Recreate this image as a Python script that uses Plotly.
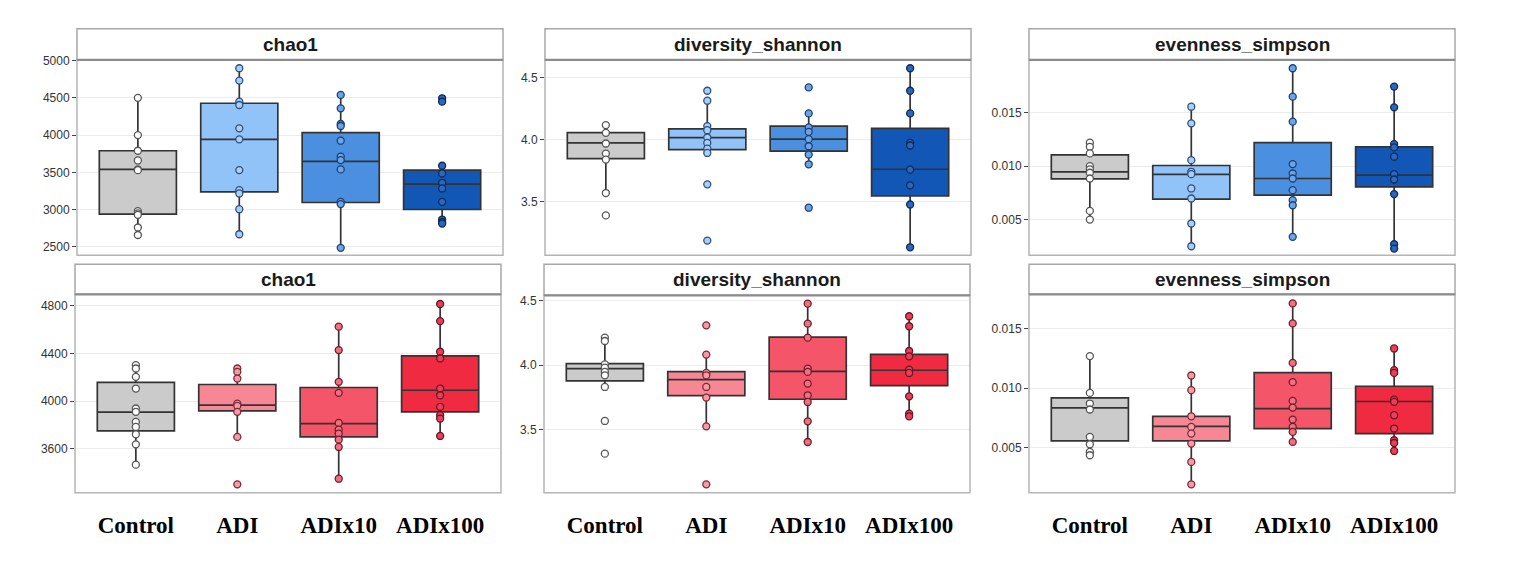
import plotly.graph_objects as go

# page body has an 8px margin: draw the figure 16px smaller and shift geometry
OFF = 8
W, H = 1532 - 2 * OFF, 563 - 2 * OFF

categories = ["Control", "ADI", "ADIx10", "ADIx100"]
panel_titles = ["chao1", "diversity_shannon", "evenness_simpson"]

# ---------------- Top row (blue) ----------------
chao1_blue_points = [
    [4500, 4000, 3790, 3660, 3540, 3530, 2980, 2950, 2930, 2760, 2660],
    [4897, 4731, 4449, 4404, 4091, 3943, 3531, 3262, 3217, 3006, 2670],
    [4539, 4359, 4149, 4122, 3925, 3710, 3665, 3540, 3105, 3074, 2487],
    [4494, 4449, 3589, 3486, 3360, 3284, 3105, 2867, 2836, 2814],
]
chao1_blue_q1 = [2939, 3239, 3096, 3002]
chao1_blue_med = [3540, 3943, 3647, 3342]
chao1_blue_q3 = [3790, 4427, 4032, 3531]
chao1_blue_lo = [2657, 2670, 2487, 2814]
chao1_blue_hi = [4503, 4897, 4539, 3589]

shannon_blue_points = [
    [4.116, 4.054, 3.968, 3.887, 3.839, 3.570, 3.390],
    [4.392, 4.312, 4.108, 4.075, 4.016, 3.973, 3.927, 3.892, 3.640, 3.188],
    [4.419, 4.210, 4.097, 4.062, 4.003, 3.946, 3.879, 3.801, 3.452],
    [4.573, 4.392, 4.210, 3.973, 3.952, 3.758, 3.632, 3.478, 3.134],
]
shannon_blue_q1 = [3.847, 3.919, 3.906, 3.546]
shannon_blue_med = [3.973, 4.016, 4.003, 3.761]
shannon_blue_q3 = [4.056, 4.086, 4.108, 4.089]
shannon_blue_lo = [3.570, 3.892, 3.801, 3.134]
shannon_blue_hi = [4.116, 4.312, 4.210, 4.573]

simpson_blue_points = [
    [0.01219, 0.01181, 0.01119, 0.01000, 0.00969, 0.00938, 0.00884, 0.00581, 0.00500],
    [0.01556, 0.01400, 0.01056, 0.00947, 0.00925, 0.00791, 0.00697, 0.00463, 0.00250],
    [0.01916, 0.01650, 0.01416, 0.01019, 0.00931, 0.00884, 0.00775, 0.00681, 0.00634, 0.00338],
    [0.01744, 0.01550, 0.01206, 0.01175, 0.01088, 0.00925, 0.00875, 0.00738, 0.00269, 0.00228],
]
simpson_blue_q1 = [0.00881, 0.00691, 0.00728, 0.00806]
simpson_blue_med = [0.00947, 0.00922, 0.00884, 0.00916]
simpson_blue_q3 = [0.01106, 0.01006, 0.01219, 0.01181]
simpson_blue_lo = [0.00500, 0.00250, 0.00338, 0.00228]
simpson_blue_hi = [0.01219, 0.01556, 0.01916, 0.01744]

# ---------------- Bottom row (red) ----------------
chao1_red_points = [
    [4302, 4274, 4204, 4106, 3939, 3911, 3827, 3785, 3723, 3639, 3469],
    [4274, 4246, 4190, 3980, 3961, 3911, 3701, 3304],
    [4624, 4428, 4162, 4070, 3818, 3762, 3729, 3678, 3617, 3351],
    [4814, 4671, 4414, 4358, 4106, 4050, 3953, 3883, 3855, 3709],
]
chao1_red_q1 = [3751, 3919, 3701, 3911]
chao1_red_med = [3908, 3967, 3813, 4092]
chao1_red_q3 = [4157, 4140, 4115, 4380]
chao1_red_lo = [3469, 3701, 3351, 3709]
chao1_red_hi = [4302, 4274, 4624, 4814]

shannon_red_points = [
    [4.214, 4.188, 4.006, 3.981, 3.947, 3.921, 3.830, 3.565, 3.310],
    [4.310, 4.082, 3.939, 3.921, 3.830, 3.747, 3.523, 3.071],
    [4.479, 4.323, 4.214, 3.973, 3.947, 3.856, 3.765, 3.713, 3.562, 3.401],
    [4.381, 4.303, 4.110, 4.069, 3.965, 3.939, 3.757, 3.622, 3.601],
]
shannon_red_q1 = [3.877, 3.762, 3.734, 3.840]
shannon_red_med = [3.973, 3.887, 3.952, 3.960]
shannon_red_q3 = [4.012, 3.949, 4.219, 4.084]
shannon_red_lo = [3.830, 3.523, 3.401, 3.601]
shannon_red_hi = [4.214, 4.082, 4.479, 4.381]

simpson_red_points = [
    [0.01268, 0.00959, 0.00870, 0.00820, 0.00590, 0.00528, 0.00464, 0.00436],
    [0.01105, 0.00982, 0.00763, 0.00674, 0.00618, 0.00534, 0.00380, 0.00192],
    [0.01710, 0.01542, 0.01211, 0.01049, 0.00892, 0.00836, 0.00735, 0.00674, 0.00632, 0.00548],
    [0.01332, 0.01150, 0.01127, 0.00903, 0.00884, 0.00772, 0.00660, 0.00562, 0.00539, 0.00472],
]
simpson_red_q1 = [0.00556, 0.00556, 0.00660, 0.00618]
simpson_red_med = [0.00833, 0.00679, 0.00828, 0.00887]
simpson_red_q3 = [0.00917, 0.00763, 0.01130, 0.01015]
simpson_red_lo = [0.00436, 0.00192, 0.00548, 0.00472]
simpson_red_hi = [0.01268, 0.01105, 0.01710, 0.01332]

# ---------------- styles ----------------
blue_fill = ["#cbcbcb", "#92c3f8", "#4a8fe0", "#1257b5"]
blue_pt_fill = ["#ffffff", "#a9cff7", "#6aa5ea", "#2a68c0"]
blue_pt_line = ["#555555", "#2c4f7c", "#1e3f6e", "#0e2a55"]
red_fill = ["#cbcbcb", "#f88796", "#f45568", "#f02a40"]
red_pt_fill = ["#ffffff", "#f79aa7", "#f06f80", "#e8405a"]
red_pt_line = ["#555555", "#7a2a35", "#6e1d28", "#6a1520"]

panels = [
    (chao1_blue_points, chao1_blue_q1, chao1_blue_med, chao1_blue_q3, chao1_blue_lo, chao1_blue_hi,
     blue_fill, blue_pt_fill, blue_pt_line, [2388, 5009], [2500, 3000, 3500, 4000, 4500, 5000], "d"),
    (shannon_blue_points, shannon_blue_q1, shannon_blue_med, shannon_blue_q3, shannon_blue_lo, shannon_blue_hi,
     blue_fill, blue_pt_fill, blue_pt_line, [3.070, 4.640], [3.5, 4.0, 4.5], ".1f"),
    (simpson_blue_points, simpson_blue_q1, simpson_blue_med, simpson_blue_q3, simpson_blue_lo, simpson_blue_hi,
     blue_fill, blue_pt_fill, blue_pt_line, [0.00166, 0.01994], [0.005, 0.010, 0.015], ".3f"),
    (chao1_red_points, chao1_red_q1, chao1_red_med, chao1_red_q3, chao1_red_lo, chao1_red_hi,
     red_fill, red_pt_fill, red_pt_line, [3234, 4895], [3600, 4000, 4400, 4800], "d"),
    (shannon_red_points, shannon_red_q1, shannon_red_med, shannon_red_q3, shannon_red_lo, shannon_red_hi,
     red_fill, red_pt_fill, red_pt_line, [3.006, 4.544], [3.5, 4.0, 4.5], ".1f"),
    (simpson_red_points, simpson_red_q1, simpson_red_med, simpson_red_q3, simpson_red_lo, simpson_red_hi,
     red_fill, red_pt_fill, red_pt_line, [0.00122, 0.01786], [0.005, 0.010, 0.015], ".3f"),
]

# pixel geometry of panels in the window: (left, right, top, bottom, strip_top)
geom = [
    (77, 503, 60, 255, 29), (545, 971, 60, 255, 29), (1029, 1455, 60, 255, 29),
    (75, 501, 294, 492, 264), (544, 970, 295, 492, 264), (1029, 1455, 294, 492, 264),
]

def px(x):
    return (x - OFF) / W

def py(y):
    # small empirical correction for vertical placement
    y = y - 6.0 * (492 - y) / 463
    return 1 - (y - OFF) / H

fig = go.Figure()
layout = dict(
    width=W, height=H, margin=dict(l=0, r=0, t=0, b=0),
    paper_bgcolor="white", plot_bgcolor="white", showlegend=False,
    font=dict(family="Liberation Sans, Arial, sans-serif", color="#333333"),
)
shapes = []
annotations = []

for i, (pts, q1, med, q3, lo, hi, fill, ptf, ptl, yr, tv, fmt) in enumerate(panels):
    n = i + 1
    xa = "x" if n == 1 else f"x{n}"
    ya = "y" if n == 1 else f"y{n}"
    L, R, T, B, ST = geom[i]
    for g, cat in enumerate(categories):
        fig.add_trace(go.Box(
            x=[cat], q1=[q1[g]], median=[med[g]], q3=[q3[g]],
            lowerfence=[lo[g]], upperfence=[hi[g]],
            fillcolor=fill[g], line=dict(color="#333333", width=1.7),
            whiskerwidth=0, width=0.76, boxpoints=False,
            xaxis=xa, yaxis=ya, hoverinfo="skip",
        ))
    for g, cat in enumerate(categories):
        fig.add_trace(go.Scatter(
            x=[cat] * len(pts[g]), y=pts[g], mode="markers",
            marker=dict(size=7, color=ptf[g], line=dict(color=ptl[g], width=1.3)),
            xaxis=xa, yaxis=ya, hoverinfo="skip",
        ))
    bottom_row = n > 3
    xkey = "xaxis" if n == 1 else f"xaxis{n}"
    ykey = "yaxis" if n == 1 else f"yaxis{n}"
    layout[xkey] = dict(
        domain=[px(L), px(R)], anchor=ya,
        type="category", categoryorder="array", categoryarray=categories,
        range=[-0.6, 3.6], showgrid=False, zeroline=False,
        showticklabels=bottom_row, ticks="",
        tickfont=dict(family="Liberation Serif, Times New Roman, serif", size=23,
                      color="#000000", weight="bold"),
        ticklabelstandoff=16, showline=False, fixedrange=True,
    )
    layout[ykey] = dict(
        domain=[py(B), py(T)], anchor=xa,
        range=yr, tickvals=tv, tickformat=fmt,
        showgrid=True, gridcolor="#ececec", gridwidth=1, zeroline=False,
        ticks="outside", ticklen=4, tickcolor="#444444", tickwidth=1,
        tickfont=dict(size=12, color="#333333"), showline=False, fixedrange=True,
    )
    shapes.append(dict(type="rect", xref="paper", yref="paper",
                       x0=px(L), x1=px(R), y0=py(B), y1=py(T),
                       line=dict(color="#b5b5b5", width=1.5), fillcolor="rgba(0,0,0,0)", layer="above"))
    shapes.append(dict(type="rect", xref="paper", yref="paper",
                       x0=px(L), x1=px(R), y0=py(T), y1=py(ST),
                       line=dict(color="#a8a8a8", width=1.5), fillcolor="white", layer="above"))
    shapes.append(dict(type="line", xref="paper", yref="paper",
                       x0=px(L), x1=px(R), y0=py(T), y1=py(T),
                       line=dict(color="#8c8c8c", width=2.2), layer="above"))
    annotations.append(dict(
        text=f"<b>{panel_titles[i % 3]}</b>", xref="paper", yref="paper",
        x=(px(L) + px(R)) / 2, y=(py(ST) + py(T)) / 2, xanchor="center", yanchor="middle",
        showarrow=False, font=dict(size=19, color="#1a1a1a", family="Liberation Sans, Arial, sans-serif"),
    ))

layout["shapes"] = shapes
layout["annotations"] = annotations
fig.update_layout(**layout)
fig.write_html("out.html")
